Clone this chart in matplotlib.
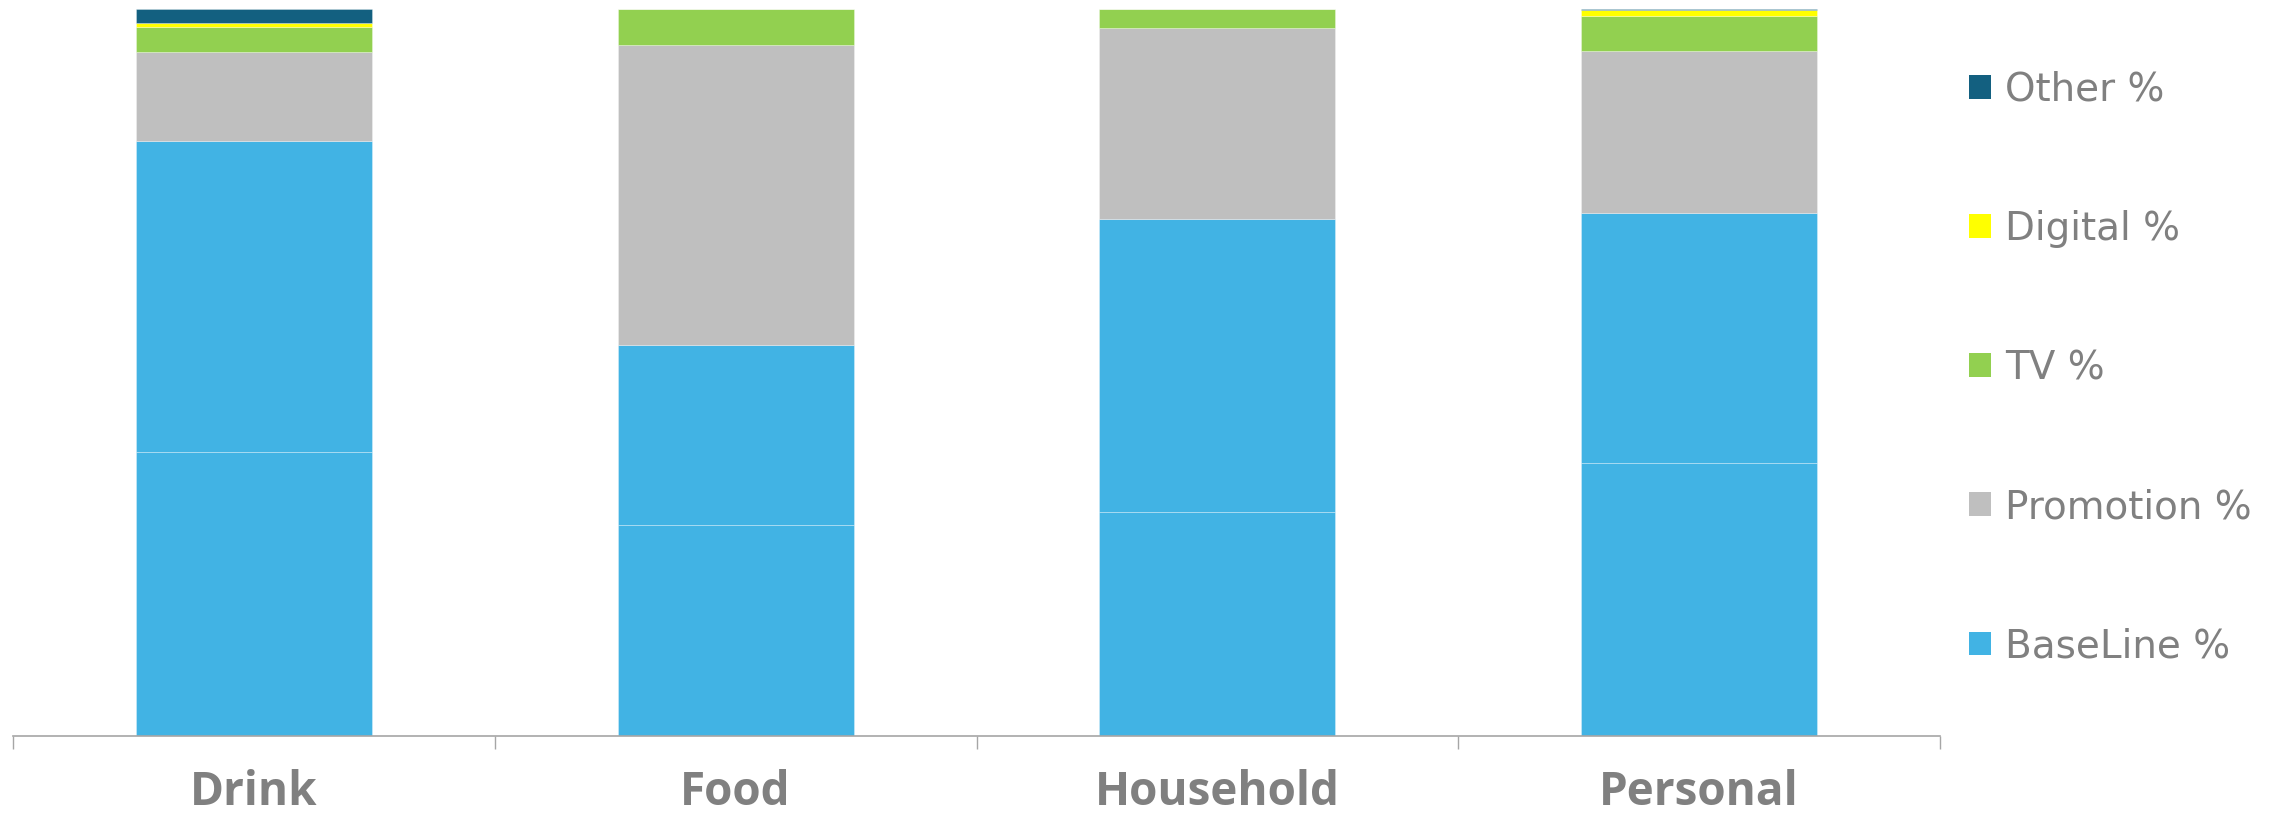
import matplotlib
matplotlib.use("Agg")
import matplotlib.pyplot as plt
from matplotlib.patches import Patch
import numpy as np

# Share of volume by driver, per category (percent of total)
categories = ["Drink", "Food", "Household", "Personal"]
baseline_core = [39.1, 29.0, 30.8, 37.5]
baseline_trend = [42.8, 24.8, 40.3, 34.5]
promotion = [12.2, 41.3, 26.3, 22.2]
tv = [3.4, 4.9, 2.6, 4.8]
digital = [0.55, 0.0, 0.0, 0.8]
other = [1.9, 0.0, 0.0, 0.15]

colors = {
    "BaseLine %": "#41B3E4",
    "Promotion %": "#BFBFBF",
    "TV %": "#92D050",
    "Digital %": "#FFFF00",
    "Other %": "#136080",
}

fig = plt.figure(figsize=(22.92, 8.13), dpi=100)
ax = fig.add_axes([13 / 2292, 1 - 736 / 813, (1940 - 13) / 2292, (736 - 9) / 813])

x = np.arange(len(categories))
width = 0.49
stack = [
    (baseline_core, colors["BaseLine %"]),
    (baseline_trend, colors["BaseLine %"]),
    (promotion, colors["Promotion %"]),
    (tv, colors["TV %"]),
    (digital, colors["Digital %"]),
    (other, colors["Other %"]),
]
bottom = np.zeros(len(categories))
for vals, col in stack:
    vals = np.asarray(vals, dtype=float)
    ax.bar(x, vals, width, bottom=bottom, color=col,
           edgecolor=(1, 1, 1, 0.3), linewidth=0.7)
    bottom += vals

ax.set_xlim(-0.5, len(categories) - 0.5)
ax.set_ylim(0, 100)
for s in ("left", "right", "top"):
    ax.spines[s].set_visible(False)
ax.spines["bottom"].set_color("#A6A6A6")
ax.spines["bottom"].set_linewidth(1.2)
ax.set_yticks([])

ax.set_xticks(x)
ax.set_xticklabels(categories, fontfamily="Open Sans", fontweight="bold",
                   fontsize=33, color="#808080")
ax.tick_params(axis="x", which="major", length=0, pad=24)
ax.set_xticks(np.arange(len(categories) + 1) - 0.5, minor=True)
ax.tick_params(axis="x", which="minor", length=9.5, width=1.0, color="#A6A6A6")

order = ["Other %", "Digital %", "TV %", "Promotion %", "BaseLine %"]
handles = [Patch(facecolor=colors[k], edgecolor="none") for k in order]
leg = fig.legend(handles, order, loc="center left",
                 bbox_to_anchor=(1969 / 2292, 1 - 368 / 813),
                 frameon=False, borderpad=0, borderaxespad=0,
                 handlelength=0.57, handleheight=0.57, handletextpad=0.35,
                 labelspacing=2.6,
                 prop={"family": "DejaVu Sans", "size": 28})
for t in leg.get_texts():
    t.set_color("#808080")

fig.savefig("out.png", dpi=100, facecolor="white")
